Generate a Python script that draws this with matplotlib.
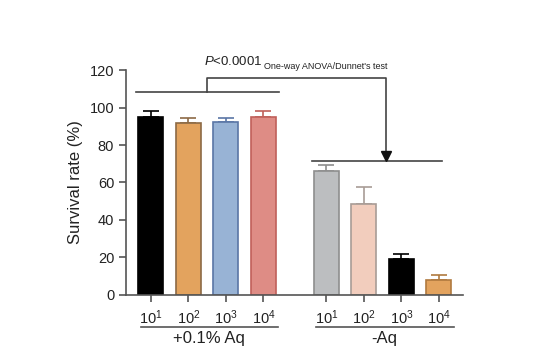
import numpy as np
import matplotlib.pyplot as plt
from matplotlib.transforms import blended_transform_factory

plt.rcParams['font.family'] = ['Liberation Sans', 'DejaVu Sans']
plt.rcParams['mathtext.fontset'] = 'custom'
plt.rcParams['mathtext.rm'] = 'Liberation Sans'
plt.rcParams['mathtext.it'] = 'Liberation Sans:italic'

# Data
doses = ['$10^{1}$', '$10^{2}$', '$10^{3}$', '$10^{4}$']
group_labels = ['+0.1% Aq', '-Aq']
aq_mean = [95, 91.8, 92.4, 94.8]
aq_err = [3.2, 2.8, 2.2, 3.2]
noaq_mean = [66.3, 48.4, 19.4, 8.0]
noaq_err = [3.0, 9.0, 2.4, 2.8]

fills = ['#000000', '#E3A35E', '#98B3D5', '#DE8C85',
         '#BCBEC0', '#F2CDBD', '#000000', '#E3A35E']
edges = ['#000000', '#8C6A45', '#5A76A6', '#C0605A',
         '#8E8E8E', '#A89C96', '#000000', '#B07A3F']
axis_col = '#555555'
txt_col = '#222222'

gap = 1.68
x1 = np.arange(4)
x2 = np.arange(4) + 3 + gap
xs = np.concatenate([x1, x2])
means = aq_mean + noaq_mean
errs = aq_err + noaq_err

fig = plt.figure(figsize=(5.47, 3.59), dpi=100)
ax = fig.add_axes([0.2303, 0.1783, 0.6161, 0.6267])

w = 0.667
for x, m, e, fc, ec in zip(xs, means, errs, fills, edges):
    ax.bar(x, m, width=w, color=fc, edgecolor=ec, linewidth=1.2, zorder=2)
    ax.errorbar(x, m, yerr=[[0], [e]], fmt='none', ecolor=ec,
                elinewidth=1.2, capsize=6, capthick=1.2, zorder=1)

ax.set_xlim(-0.667, 8.32)
ax.set_ylim(0, 120)
ax.set_yticks(range(0, 121, 20))
ax.set_xticks(xs)
ax.set_xticklabels(doses * 2)
ax.tick_params(axis='both', colors=axis_col, labelcolor=txt_col,
               labelsize=10.5, length=5, width=1.2, direction='out')
ax.tick_params(axis='x', pad=5)
for s in ['top', 'right']:
    ax.spines[s].set_visible(False)
for s in ['left', 'bottom']:
    ax.spines[s].set_color(axis_col)
    ax.spines[s].set_linewidth(1.2)
ax.set_ylabel('Survival rate (%)', fontsize=12, color=txt_col, labelpad=5)

# group underlines and labels
tr = blended_transform_factory(ax.transData, ax.transAxes)
for xg, lab in zip([x1, x2], group_labels):
    ax.plot([xg[0] - 0.27, xg[-1] + 0.4], [-0.142, -0.142], transform=tr,
            color=axis_col, lw=1.2, clip_on=False)
    ax.text(xg.mean() + 0.05, -0.195, lab, transform=tr, ha='center', va='center',
            fontsize=12, color=txt_col)

# significance bracket
lc = '#444444'
ax.plot([x1[0] - 0.4, x1[-1] + 0.41], [108.4, 108.4], color=lc, lw=1.2, clip_on=False)
ax.plot([x2[0] - 0.39, x2[-1] + 0.07], [71.5, 71.5], color=lc, lw=1.2, clip_on=False)
xa, xb = x1.mean(), x2.mean() + 0.09
ax.plot([xa, xa, xb, xb], [108.4, 115.6, 115.6, 75.5], color=lc, lw=1.2, clip_on=False)
ax.plot([xb], [74.0], marker='v', color='#111111', markersize=7, clip_on=False)

t1 = ax.text(xa - 0.08, 121.0, '$\\it{P}$<0.0001', fontsize=9.5, color=txt_col,
             ha='left', va='bottom', clip_on=False)
ax.annotate("One-way ANOVA/Dunnet's test", xy=(1.0, 0.0), xycoords=t1,
            xytext=(1.0, -2.0), textcoords='offset points',
            fontsize=6.5, color=txt_col, ha='left', va='bottom')

fig.savefig('out.png', dpi=100)
